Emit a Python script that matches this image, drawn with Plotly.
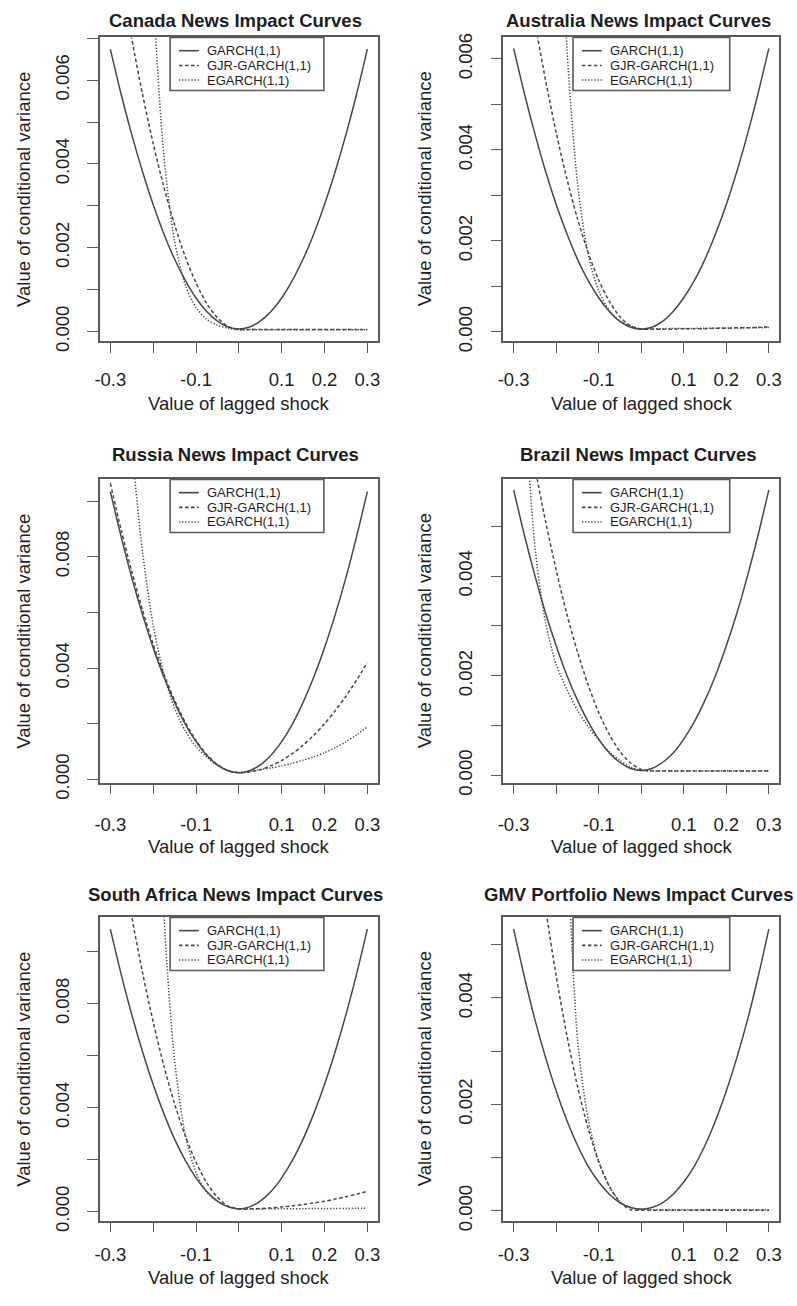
import plotly.graph_objects as go

# ---------------------------------------------------------------- data
SHOCK = [-0.300, -0.275, -0.250, -0.225, -0.200, -0.175, -0.150, -0.125,
         -0.100, -0.075, -0.050, -0.025, 0.000, 0.025, 0.050, 0.075,
         0.100, 0.125, 0.150, 0.175, 0.200, 0.225, 0.250, 0.275, 0.300]

MODEL_NAMES = ["GARCH(1,1)", "GJR-GARCH(1,1)", "EGARCH(1,1)"]

CANADA_GARCH = [0.00674, 0.00567, 0.00470, 0.00382, 0.00303, 0.00233, 0.00173, 0.00122,
                0.00080, 0.00048, 0.00025, 0.00011, 0.00006, 0.00011, 0.00025, 0.00048,
                0.00080, 0.00122, 0.00173, 0.00233, 0.00303, 0.00382, 0.00470, 0.00567, 0.00674]
CANADA_GJR = [0.01004, 0.00844, 0.00699, 0.00567, 0.00449, 0.00345, 0.00255, 0.00178,
              0.00116, 0.00067, 0.00033, 0.00012, 0.00005, 0.00005, 0.00005, 0.00005,
              0.00005, 0.00005, 0.00005, 0.00005, 0.00005, 0.00005, 0.00005, 0.00005, 0.00005]
CANADA_EGARCH = [0.1168, 0.0601, 0.0309, 0.0159, 0.00818, 0.00420, 0.00216, 0.00111,
                 0.00057, 0.00029, 0.00015, 0.00008, 0.00004, 0.00004, 0.00004, 0.00004,
                 0.00004, 0.00004, 0.00004, 0.00004, 0.00004, 0.00004, 0.00004, 0.00004, 0.00004]

AUSTRALIA_GARCH = [0.00623, 0.00525, 0.00435, 0.00353, 0.00280, 0.00216, 0.00160, 0.00113,
                   0.00075, 0.00045, 0.00023, 0.00010, 0.00006, 0.00010, 0.00023, 0.00045,
                   0.00075, 0.00113, 0.00160, 0.00216, 0.00280, 0.00353, 0.00435, 0.00525, 0.00623]
AUSTRALIA_GJR = [0.00978, 0.00823, 0.00681, 0.00553, 0.00438, 0.00337, 0.00249, 0.00175,
                 0.00114, 0.00067, 0.00033, 0.00013, 0.00006, 0.00006, 0.00006, 0.00006,
                 0.00007, 0.00007, 0.00007, 0.00008, 0.00008, 0.00009, 0.00009, 0.00010, 0.00011]
AUSTRALIA_EGARCH = [0.1623, 0.0847, 0.0442, 0.0231, 0.01206, 0.00629, 0.00328, 0.00171,
                    0.00090, 0.00047, 0.00024, 0.00013, 0.000067, 0.000069, 0.000071, 0.000073,
                    0.000075, 0.000077, 0.000080, 0.000082, 0.000085, 0.000087, 0.000090,
                    0.000092, 0.000095]

RUSSIA_GARCH = [0.01034, 0.00873, 0.00725, 0.00592, 0.00473, 0.00368, 0.00277, 0.00199,
                0.00136, 0.00087, 0.00052, 0.00031, 0.00024, 0.00031, 0.00052, 0.00087,
                0.00136, 0.00199, 0.00277, 0.00368, 0.00473, 0.00592, 0.00725, 0.00873, 0.01034]
RUSSIA_GJR = [0.01064, 0.00898, 0.00747, 0.00609, 0.00486, 0.00378, 0.00284, 0.00205,
              0.00140, 0.00089, 0.00053, 0.00031, 0.00024, 0.00027, 0.00035, 0.00049,
              0.00068, 0.00093, 0.00123, 0.00159, 0.00200, 0.00247, 0.00299, 0.00357, 0.00420]
RUSSIA_EGARCH = [0.02615, 0.01775, 0.01205, 0.00818, 0.00555, 0.00377, 0.00256, 0.00174,
                 0.00118, 0.00080, 0.00050, 0.00033, 0.00025, 0.00030, 0.00035, 0.00041,
                 0.00049, 0.00058, 0.00069, 0.00081, 0.00096, 0.00114, 0.00135, 0.00160, 0.00189]

BRAZIL_GARCH = [0.00573, 0.00483, 0.00401, 0.00326, 0.00260, 0.00201, 0.00151, 0.00108,
                0.00073, 0.00045, 0.00026, 0.00014, 0.00010, 0.00014, 0.00026, 0.00045,
                0.00073, 0.00108, 0.00151, 0.00201, 0.00260, 0.00326, 0.00401, 0.00483, 0.00573]
BRAZIL_GJR = [0.00868, 0.00738, 0.00618, 0.00510, 0.00412, 0.00324, 0.00248, 0.00182,
              0.00126, 0.00082, 0.00048, 0.00025, 0.00012, 0.00009, 0.00009, 0.00009,
              0.00009, 0.00009, 0.00009, 0.00009, 0.00009, 0.00009, 0.00009, 0.00009, 0.00009]
BRAZIL_EGARCH = [0.0125, 0.0077, 0.00459, 0.00307, 0.00223, 0.00173, 0.00131, 0.00098,
                 0.00071, 0.00047, 0.00030, 0.00017, 0.00010, 0.00009, 0.00009, 0.00009,
                 0.00009, 0.00009, 0.00009, 0.00009, 0.00009, 0.00009, 0.00009, 0.00009, 0.00009]

SOUTH_AFRICA_GARCH = [0.01087, 0.00915, 0.00758, 0.00616, 0.00489, 0.00377, 0.00279, 0.00197,
                      0.00130, 0.00077, 0.00040, 0.00018, 0.00010, 0.00018, 0.00040, 0.00077,
                      0.00130, 0.00197, 0.00279, 0.00377, 0.00489, 0.00616, 0.00758, 0.00915,
                      0.01087]
SOUTH_AFRICA_GJR = [0.0163, 0.01371, 0.01135, 0.00921, 0.00730, 0.00561, 0.00415, 0.00291,
                    0.00190, 0.00111, 0.00055, 0.00021, 0.00010, 0.00010, 0.00012, 0.00014,
                    0.00018, 0.00022, 0.00027, 0.00033, 0.00040, 0.00048, 0.00057, 0.00067,
                    0.00078]
SOUTH_AFRICA_EGARCH = [0.3396, 0.1724, 0.08755, 0.04446, 0.02259, 0.01147, 0.00583, 0.00296,
                       0.00150, 0.00076, 0.00039, 0.00020, 0.00010, 0.00010, 0.00010, 0.00011,
                       0.00011, 0.00011, 0.00011, 0.00012, 0.00012, 0.00012, 0.00012, 0.00013,
                       0.00013]

GMV_GARCH = [0.00529, 0.00440, 0.00359, 0.00288, 0.00225, 0.00170, 0.00123, 0.00084,
             0.00054, 0.00031, 0.00015, 0.00006, 0.00003, 0.00006, 0.00015, 0.00031,
             0.00054, 0.00084, 0.00123, 0.00170, 0.00225, 0.00288, 0.00359, 0.00440, 0.00529]
GMV_GJR = [0.01051, 0.00874, 0.00714, 0.00569, 0.00441, 0.00330, 0.00234, 0.00155,
           0.00092, 0.00046, 0.00016, 0.00002, 0.00001, 0.00001, 0.00001, 0.00001,
           0.00001, 0.00001, 0.00001, 0.00001, 0.00001, 0.00001, 0.00001, 0.00001, 0.00001]
GMV_EGARCH = [0.4289, 0.1904, 0.08446, 0.03748, 0.01663, 0.00738, 0.00324, 0.00173,
              0.00093, 0.00046, 0.00017, 0.00006, 0.00003, 0.00002, 0.00002, 0.00002,
              0.00002, 0.00002, 0.00002, 0.00002, 0.00002, 0.00002, 0.00002, 0.00002, 0.00002]

TITLES = ["Canada News Impact Curves", "Australia News Impact Curves",
          "Russia News Impact Curves", "Brazil News Impact Curves",
          "South Africa News Impact Curves", "GMV Portfolio News Impact Curves"]

SERIES = [
    (CANADA_GARCH, CANADA_GJR, CANADA_EGARCH),
    (AUSTRALIA_GARCH, AUSTRALIA_GJR, AUSTRALIA_EGARCH),
    (RUSSIA_GARCH, RUSSIA_GJR, RUSSIA_EGARCH),
    (BRAZIL_GARCH, BRAZIL_GJR, BRAZIL_EGARCH),
    (SOUTH_AFRICA_GARCH, SOUTH_AFRICA_GJR, SOUTH_AFRICA_EGARCH),
    (GMV_GARCH, GMV_GJR, GMV_EGARCH),
]

X_TICKS = [-0.3, -0.2, -0.1, 0.0, 0.1, 0.2, 0.3]
X_TICK_TEXT = ["-0.3", "", "-0.1", "", "0.1", "0.2", "0.3"]

Y_TICKS = [
    [0, 0.001, 0.002, 0.003, 0.004, 0.005, 0.006, 0.007],
    [0, 0.001, 0.002, 0.003, 0.004, 0.005, 0.006],
    [0, 0.002, 0.004, 0.006, 0.008, 0.010],
    [0, 0.001, 0.002, 0.003, 0.004, 0.005],
    [0, 0.002, 0.004, 0.006, 0.008, 0.010],
    [0, 0.001, 0.002, 0.003, 0.004, 0.005],
]
Y_TICK_TEXT = [
    ["0.000", "", "0.002", "", "0.004", "", "0.006", ""],
    ["0.000", "", "0.002", "", "0.004", "", "0.006"],
    ["0.000", "", "0.004", "", "0.008", ""],
    ["0.000", "", "0.002", "", "0.004", ""],
    ["0.000", "", "0.004", "", "0.008", ""],
    ["0.000", "", "0.002", "", "0.004", ""],
]

# ---------------------------------------------------------------- layout
W, H = 797, 1306
FONT = "Liberation Sans, Arial, Helvetica, sans-serif"
INK = "#1e1e1e"
LINE = "#474747"
FRAME = "#5a5a5a"

X_RANGE = [-0.3243, 0.3243]
Y_RANGES = [
    [-0.00022, 0.00702],
    [-0.000195, 0.00647],
    [-0.000117, 0.01078],
    [-0.000145, 0.00594],
    [-0.00035, 0.011325],
    [-0.000186, 0.00551],
]

COL_LEFT = [95, 503]
COL_WIDTH = [281, 279]
ROW_TOP = [33, 482.5, 928]
BOX_H = 308.5
TITLE_Y = [15.5, 457.3, 905]
XLABEL_Y = [405, 856, 1294]
XTICK_STANDOFF = [11, 14, 6]
YLABEL_X = [17, 423]

DASHES = ["solid", "3.5px,2.5px", "1.3px,1.8px"]
LEG_LEFT = [71, 70.5]
LEG_W = [155.5, 158.5]
LEG_H = 54
LEG_ROWS = [13.5, 28.5, 43.3]


def px(x):
    return x / W


def py(y):
    return 1 - y / H


fig = go.Figure()
shapes = []
annotations = []

for i, (title, series) in enumerate(zip(TITLES, SERIES)):
    r, c = divmod(i, 2)
    sfx = "" if i == 0 else str(i + 1)
    left = COL_LEFT[c]
    width = COL_WIDTH[c]
    top = ROW_TOP[r]

    for name, vals, dash in zip(MODEL_NAMES, series, DASHES):
        fig.add_trace(go.Scatter(
            x=SHOCK, y=vals, mode="lines", name=name, showlegend=False,
            line=dict(color=LINE, width=1.5, dash=dash, shape="spline", smoothing=0.8),
            xaxis="x" + sfx, yaxis="y" + sfx, hoverinfo="skip",
        ))

    fig.update_layout(**{
        "xaxis" + sfx: dict(
            domain=[px(left), px(left + width)], anchor="y" + sfx,
            range=X_RANGE, tickvals=X_TICKS, ticktext=X_TICK_TEXT,
            ticks="outside", ticklen=10, tickwidth=1.4, tickcolor=FRAME,
            ticklabelstandoff=XTICK_STANDOFF[r],
            showline=True, mirror=True, linecolor=FRAME, linewidth=1.6,
            showgrid=False, zeroline=False,
            tickfont=dict(family=FONT, size=18.5, color=INK),
        ),
        "yaxis" + sfx: dict(
            domain=[py(top + BOX_H), py(top)], anchor="x" + sfx,
            range=Y_RANGES[i], tickvals=Y_TICKS[i], ticktext=Y_TICK_TEXT[i],
            ticks="outside", ticklen=11, tickwidth=1.4, tickcolor=FRAME,
            ticklabelstandoff=11,
            showline=True, mirror=True, linecolor=FRAME, linewidth=1.6,
            showgrid=False, zeroline=False, tickangle=-90,
            tickfont=dict(family=FONT, size=18.5, color=INK),
        ),
    })

    cx = left + width / 2 - 3
    annotations.append(dict(
        text="<b>" + title + "</b>", x=px(cx), y=py(TITLE_Y[r]),
        xref="paper", yref="paper", showarrow=False, xanchor="center", yanchor="middle",
        font=dict(family=FONT, size=18.5, color=INK),
    ))
    annotations.append(dict(
        text="Value of lagged shock", x=px(left + width / 2), y=py(XLABEL_Y[r]),
        xref="paper", yref="paper", showarrow=False, xanchor="center", yanchor="middle",
        font=dict(family=FONT, size=18.5, color=INK),
    ))
    annotations.append(dict(
        text="Value of conditional variance", x=px(YLABEL_X[c]), y=py(top + BOX_H / 2),
        xref="paper", yref="paper", showarrow=False, xanchor="center", yanchor="middle",
        textangle=-90, font=dict(family=FONT, size=18.5, color=INK),
    ))

    # legend box with line samples
    lx0 = left + LEG_LEFT[c]
    lx1 = lx0 + LEG_W[c]
    shapes.append(dict(
        type="rect", xref="paper", yref="paper",
        x0=px(lx0), x1=px(lx1), y0=py(top + LEG_H), y1=py(top),
        line=dict(color=FRAME, width=1.6), fillcolor="white", layer="above",
    ))
    for name, dash, dy in zip(MODEL_NAMES, DASHES, LEG_ROWS):
        shapes.append(dict(
            type="line", xref="paper", yref="paper",
            x0=px(lx0 + 9), x1=px(lx0 + 29), y0=py(top + dy), y1=py(top + dy),
            line=dict(color=LINE, width=1.6, dash=dash), layer="above",
        ))
        annotations.append(dict(
            text=name, x=px(lx0 + 35.5), y=py(top + dy),
            xref="paper", yref="paper", showarrow=False, xanchor="left", yanchor="middle",
            font=dict(family=FONT, size=13, color=INK),
        ))

fig.update_layout(
    width=W, height=H, margin=dict(l=0, r=0, t=0, b=0),
    paper_bgcolor="white", plot_bgcolor="white",
    shapes=shapes, annotations=annotations, showlegend=False,
)

fig.write_html("out.html")
